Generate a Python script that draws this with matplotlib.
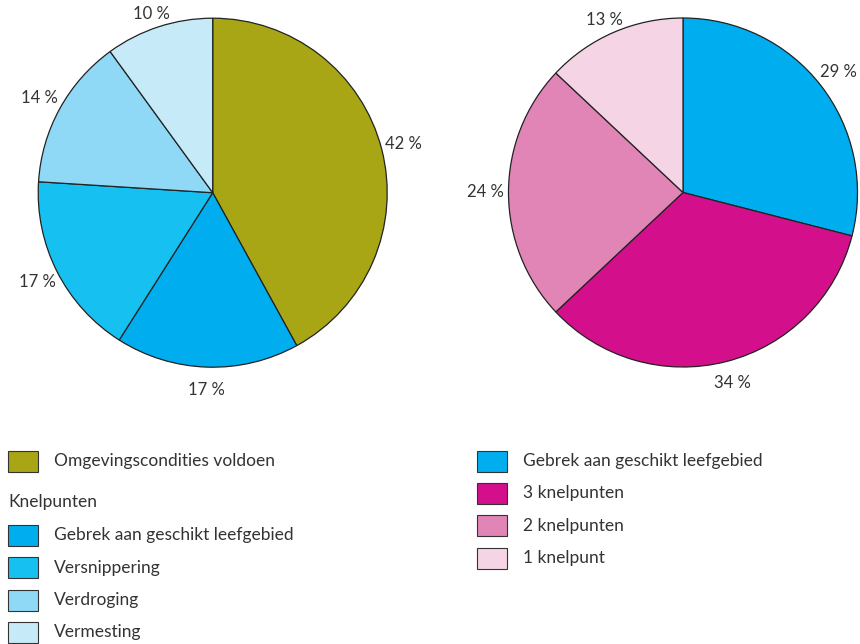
import matplotlib.pyplot as plt
from matplotlib.patches import Rectangle

plt.rcParams['font.family'] = ['Lato', 'DejaVu Sans']

# linker taart: omgevingscondities en knelpunten
links_labels = ["Omgevingscondities voldoen", "Gebrek aan geschikt leefgebied",
                "Versnippering", "Verdroging", "Vermesting"]
links_waarden = [42, 17, 17, 14, 10]
links_kleuren = ["#a8a614", "#00aeef", "#16c1f2", "#8fd9f6", "#c7eaf9"]

# rechter taart: aantal knelpunten
rechts_labels = ["Gebrek aan geschikt leefgebied", "3 knelpunten",
                 "2 knelpunten", "1 knelpunt"]
rechts_waarden = [29, 34, 24, 13]
rechts_kleuren = ["#00aeef", "#d40f8c", "#e185b7", "#f5d5e5"]

tekstkleur = "#333333"

fig = plt.figure(figsize=(8.6, 6.44), dpi=100)
W, H = 860, 644


def taart(cx, cy, r, waarden, kleuren):
    ax = fig.add_axes([(cx - r) / W, 1 - (cy + r) / H, 2 * r / W, 2 * r / H])
    wedges, teksten = ax.pie(waarden, colors=kleuren, startangle=90, counterclock=False,
                             labels=[f"{v} %" for v in waarden], labeldistance=1.13,
                             wedgeprops=dict(edgecolor="#222222", linewidth=0.9),
                             textprops=dict(fontsize=12, color=tekstkleur))
    for t in teksten:
        t.set_ha("center")
        t.set_va("center")
        x, y = t.get_position()
        # labels bovenaan iets omlaag, zodat ze niet buiten beeld vallen
        if y > 1.0:
            t.set_position((x, y - 0.05))
    ax.set_xlim(-1.0, 1.0)
    ax.set_ylim(-1.0, 1.0)
    ax.set_aspect("equal")
    ax.axis("off")


taart(212.7, 192.7, 174.5, links_waarden, links_kleuren)
taart(683, 192.5, 174.5, rechts_waarden, rechts_kleuren)

# legenda's tekenen in pixelcoordinaten
lax = fig.add_axes([0, 0, 1, 1])
lax.set_xlim(0, W)
lax.set_ylim(H, 0)
lax.axis("off")


def vakje(x, y, kleur, tekst):
    lax.add_patch(Rectangle((x, y - 10.5), 30, 21, facecolor=kleur,
                            edgecolor="#333333", linewidth=0.8))
    lax.text(x + 46, y, tekst, fontsize=12.5, color=tekstkleur, va="center")


vakje(8, 461, links_kleuren[0], links_labels[0])
lax.text(8, 502, "Knelpunten", fontsize=12.5, color=tekstkleur, va="center")
for i, y in enumerate([535, 567.5, 600, 632]):
    vakje(8, y, links_kleuren[i + 1], links_labels[i + 1])

for i, y in enumerate([461, 493, 525.7, 558]):
    vakje(477, y, rechts_kleuren[i], rechts_labels[i])

fig.savefig("out.png", dpi=100)
